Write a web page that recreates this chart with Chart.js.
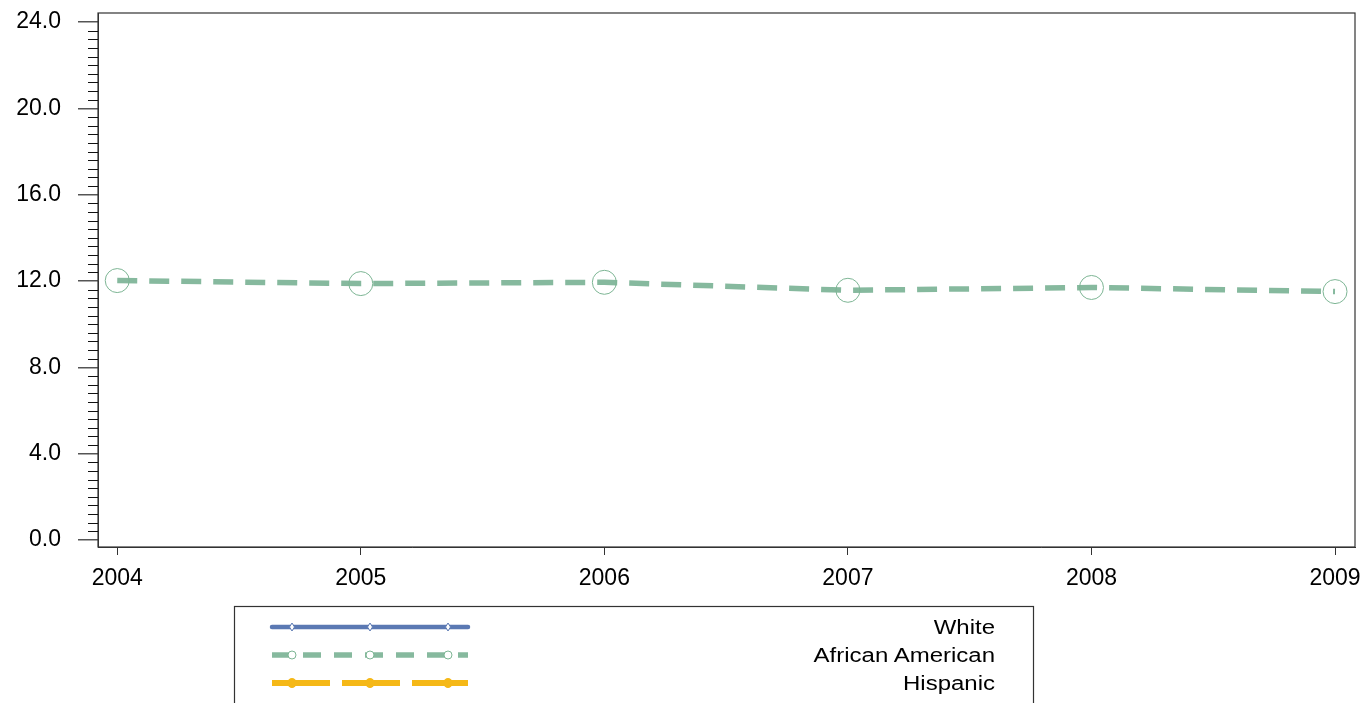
<!DOCTYPE html>
<html><head><meta charset="utf-8">
<script src="https://cdn.jsdelivr.net/npm/chart.js@4/dist/chart.umd.min.js"></script>
<style>
html,body{margin:0;padding:0;background:#fff;overflow:hidden;}
#wrap{position:relative;width:1364px;height:703px;}
#legend{position:absolute;left:234px;top:606px;overflow:visible;}
</style></head><body>
<div id="wrap"><canvas id="c" width="1364" height="703"></canvas><svg id="legend" width="800" height="110" xmlns="http://www.w3.org/2000/svg"></svg></div>
<script>
// ---- data ----
const years = [2004, 2005, 2006, 2007, 2008, 2009];
const seriesNames = ['White', 'African American', 'Hispanic'];
const whiteValues = [null, null, null, null, null, null];
const africanAmericanValues = [12.02, 11.88, 11.94, 11.57, 11.70, 11.51];
const hispanicValues = [null, null, null, null, null, null];
const yMajorTicks = [0, 4, 8, 12, 16, 20, 24];
const yMinorStep = 0.4;

const FONT = '"Liberation Sans", Arial, sans-serif';
const styles = [
  {color: '#5b79b3', width: 4.5, dash: [], legendDash: [], marker: 'diamond'},
  {color: '#86b99e', width: 5.5, dash: [20, 12], legendDash: [18, 13], marker: 'openCircle'},
  {color: '#f5b817', width: 6, dash: [58, 12], legendDash: [58, 12], marker: 'dot'}
];
const valueSets = [whiteValues, africanAmericanValues, hispanicValues];

const datasets = seriesNames.map((name, i) => ({
  label: name,
  data: years.map((yr, j) => ({x: yr, y: valueSets[i][j]})),
  borderColor: styles[i].color,
  borderWidth: styles[i].width,
  borderDash: styles[i].dash,
  tension: 0,
  fill: false,
  pointRadius: i === 1 ? 12 : 4,
  pointBorderWidth: 1,
  pointBorderColor: i === 1 ? '#7db594' : styles[i].color,
  pointBackgroundColor: i === 1 ? 'rgba(0,0,0,0)' : styles[i].color,
  spanGaps: false,
  clip: false
}));

const framePlugin = {
  id: 'frame',
  afterDraw(chart) {
    const {ctx, chartArea: a, scales} = chart;
    ctx.save();
    ctx.strokeStyle = '#333';
    ctx.lineWidth = 1.2;
    ctx.strokeRect(a.left, a.top, a.right - a.left, a.bottom - a.top);
    // minor y ticks
    const ys = scales.y;
    ctx.strokeStyle = '#111';
    ctx.lineWidth = 1;
    const n = Math.round((yMajorTicks[yMajorTicks.length - 1] - yMajorTicks[0]) / yMinorStep);
    for (let k = 0; k <= n; k++) {
      const v = yMajorTicks[0] + k * yMinorStep;
      if (Math.abs(v / 4 - Math.round(v / 4)) < 1e-6) continue;
      const py = Math.round(ys.getPixelForValue(v)) + 0.5;
      ctx.beginPath();
      ctx.moveTo(a.left - 10, py);
      ctx.lineTo(a.left, py);
      ctx.stroke();
    }
    ctx.restore();
  }
};

new Chart(document.getElementById('c'), {
  type: 'line',
  data: {datasets},
  options: {
    responsive: false,
    animation: false,
    devicePixelRatio: 1,
    layout: {autoPadding: false, padding: {top: 13, right: 9, left: 0, bottom: 0}},
    plugins: {legend: {display: false}, tooltip: {enabled: false}},
    scales: {
      x: {
        type: 'linear',
        min: 2003.921,
        max: 2009.082,
        afterBuildTicks: s => { s.ticks = years.map(v => ({value: v})); },
        afterFit: s => { s.height = 156; s.paddingLeft = 0; s.paddingRight = 0; },
        ticks: {
          callback: v => String(v),
          font: {family: FONT, size: 23},
          color: '#000',
          padding: 10,
          maxRotation: 0,
          autoSkip: false
        },
        grid: {drawOnChartArea: false, drawTicks: true, tickLength: 8, color: '#333', lineWidth: 1},
        border: {display: true, color: '#333', width: 1}
      },
      y: {
        type: 'linear',
        min: -0.324,
        max: 24.417,
        afterBuildTicks: s => { s.ticks = yMajorTicks.map(v => ({value: v})); },
        afterFit: s => { s.width = 98; s.paddingTop = 0; s.paddingBottom = 0; },
        ticks: {
          callback: v => Number(v).toFixed(1),
          font: {family: FONT, size: 23},
          color: '#000',
          padding: 17,
          autoSkip: false
        },
        grid: {drawOnChartArea: false, drawTicks: true, tickLength: 20, color: '#555', lineWidth: 1.5},
        border: {display: true, color: '#333', width: 1}
      }
    }
  },
  plugins: [framePlugin]
});

// ---- legend (SVG, real text) ----
const svg = document.getElementById('legend');
const NS = 'http://www.w3.org/2000/svg';
function el(tag, attrs) {
  const e = document.createElementNS(NS, tag);
  for (const k in attrs) e.setAttribute(k, attrs[k]);
  svg.appendChild(e);
  return e;
}
el('rect', {x: 0.5, y: 0.5, width: 799, height: 120, fill: 'none', stroke: '#333', 'stroke-width': 1.2});
seriesNames.forEach((name, i) => {
  const st = styles[i];
  const cy = 21 + 28 * i;
  el('line', {x1: 38, x2: 234, y1: cy, y2: cy, stroke: st.color, 'stroke-width': st.width,
    'stroke-dasharray': st.legendDash.length ? st.legendDash.join(' ') : 'none',
    'stroke-linecap': i === 0 ? 'round' : 'butt'});
  [58, 136, 214].forEach(mx => {
    if (st.marker === 'diamond') {
      el('path', {d: `M${mx} ${cy - 4} L${mx + 2.5} ${cy} L${mx} ${cy + 4} L${mx - 2.5} ${cy} Z`, fill: '#fff', stroke: st.color, 'stroke-width': 1});
    } else if (st.marker === 'openCircle') {
      el('circle', {cx: mx, cy: cy, r: 4, fill: '#fff', stroke: '#7db594', 'stroke-width': 1});
    } else {
      el('circle', {cx: mx, cy: cy, r: 4.5, fill: st.color, stroke: st.color, 'stroke-width': 1});
    }
  });
  const t = el('text', {x: 761, y: cy, 'text-anchor': 'end', 'dominant-baseline': 'central',
    'font-family': 'Liberation Sans, Arial, sans-serif', 'font-size': 20, fill: '#000'});
  t.textContent = name;
  const w = t.getComputedTextLength();
  t.setAttribute('textLength', (w * 1.2).toFixed(1));
  t.setAttribute('lengthAdjust', 'spacingAndGlyphs');
});
</script>
</body></html>
